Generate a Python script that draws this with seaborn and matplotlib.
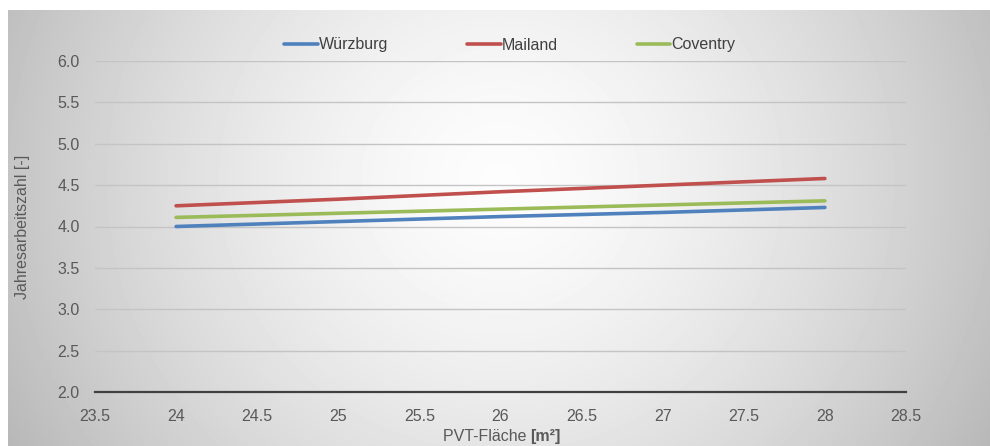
import numpy as np
import pandas as pd
import matplotlib.pyplot as plt
import seaborn as sns

# -------------------------
# Data
# -------------------------
flaeche = [24, 25, 26, 27, 28]
wuerzburg = [4.00, 4.06, 4.12, 4.17, 4.23]
mailand = [4.25, 4.33, 4.42, 4.50, 4.58]
coventry = [4.11, 4.16, 4.21, 4.26, 4.31]

staedte = ["Würzburg", "Mailand", "Coventry"]
farben = ["#4F81BD", "#C0504D", "#9BBB59"]

y_ticks = [2.0, 2.5, 3.0, 3.5, 4.0, 4.5, 5.0, 5.5, 6.0]
x_ticks = [23.5, 24, 24.5, 25, 25.5, 26, 26.5, 27, 27.5, 28, 28.5]
x_ticklabels = ["23.5", "24", "24.5", "25", "25.5", "26", "26.5", "27", "27.5", "28", "28.5"]

df = pd.DataFrame({
    "Fläche": flaeche * 3,
    "JAZ": wuerzburg + mailand + coventry,
    "Stadt": [s for s in staedte for _ in flaeche],
})

# -------------------------
# Style
# -------------------------
sns.set_style("white")
plt.rcParams["font.family"] = ["Liberation Sans", "DejaVu Sans"]
textfarbe = "#595959"
fs = 11.5

fig = plt.figure(figsize=(9.9, 4.46), dpi=100)

# radial gray background (chart area box starts a bit inside the image)
bg = fig.add_axes([8 / 990, 0, 1 - 8 / 990, 1 - 10 / 446], zorder=0)
h, w = 436, 982
yy, xx = np.mgrid[0:h, 0:w]
d = np.sqrt(((xx - 492) / 520.0) ** 2 + ((yy - 170) / 500.0) ** 2)
val = np.clip(0.99 - 0.24 * d ** 1.5, 0, 1)
bg.imshow(val, cmap="gray", vmin=0, vmax=1, aspect="auto", interpolation="bilinear")
bg.axis("off")

ax = fig.add_axes([95 / 990, 1 - 392 / 446, 811 / 990, 331 / 446], zorder=1)
ax.patch.set_alpha(0)

sns.lineplot(data=df, x="Fläche", y="JAZ", hue="Stadt", hue_order=staedte,
             palette=farben, linewidth=2.6, ax=ax, legend=True)
for line in ax.get_lines():
    line.set_solid_capstyle("round")

ax.set_xlim(23.5, 28.5)
ax.set_ylim(2.0, 6.0)
ax.set_yticks(y_ticks)
ax.set_yticklabels([f"{v:.1f}" for v in y_ticks])
ax.set_xticks(x_ticks)
ax.set_xticklabels(x_ticklabels)
ax.tick_params(axis="both", length=0, labelsize=fs, labelcolor=textfarbe)
ax.tick_params(axis="y", pad=11)
ax.tick_params(axis="x", pad=12)
ax.grid(axis="y", color="#c4c4c4", linewidth=1.0)
ax.set_axisbelow(True)
for side in ["top", "right", "left"]:
    ax.spines[side].set_visible(False)
ax.spines["bottom"].set_color("#404040")
ax.spines["bottom"].set_linewidth(1.6)

ax.set_xlabel("")
ax.set_ylabel("Jahresarbeitszahl [-]", fontsize=fs, color=textfarbe, labelpad=20)

# x label with bold unit
ax.text(0.537, -0.113, "PVT-Fläche ", transform=ax.transAxes, ha="right",
        va="top", fontsize=fs, color=textfarbe)
ax.text(0.537, -0.113, "[m²]", transform=ax.transAxes, ha="left",
        va="top", fontsize=fs, color=textfarbe, fontweight="bold")

ax.legend(loc="center", bbox_to_anchor=(510 / 990, 1 - 45 / 446),
          bbox_transform=fig.transFigure, ncol=3, frameon=False,
          fontsize=fs, handlelength=2.1, handletextpad=0.1,
          columnspacing=4.9, labelcolor="#404040")

fig.savefig("out.png", dpi=100)
